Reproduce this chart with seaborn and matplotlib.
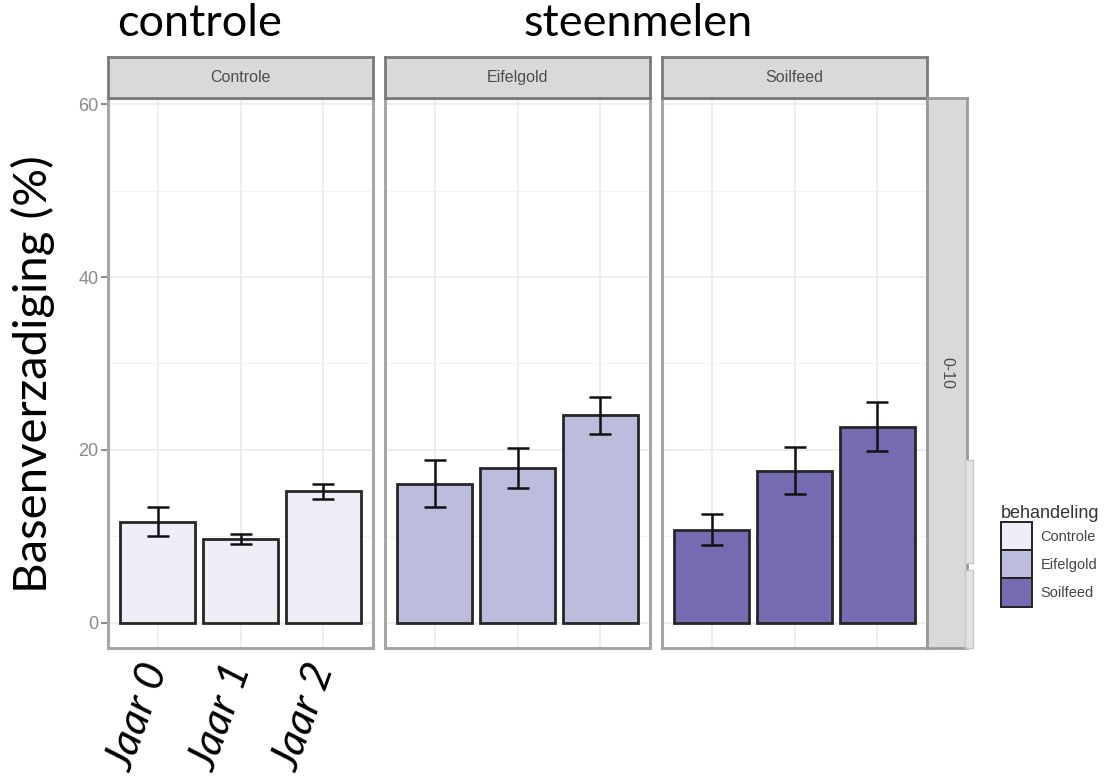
import matplotlib
matplotlib.use("Agg")
import matplotlib.pyplot as plt
from matplotlib.patches import Patch, Rectangle
import seaborn as sns
import pandas as pd
import numpy as np

sns.set_theme(style="white")
plt.rcParams['font.family'] = ['Liberation Sans', 'DejaVu Sans']

# ---- data ----
jaren = ["Jaar 0", "Jaar 1", "Jaar 2"]
behandelingen = ["Controle", "Eifelgold", "Soilfeed"]
controle_mean = [11.7, 9.7, 15.2]
controle_se = [1.7, 0.6, 0.9]
eifelgold_mean = [16.1, 17.9, 24.0]
eifelgold_se = [2.7, 2.35, 2.15]
soilfeed_mean = [10.8, 17.6, 22.7]
soilfeed_se = [1.8, 2.7, 2.8]
kleuren = ["#EFEDF5", "#BCBDDC", "#756BB1"]
y_ticks = [0, 20, 40, 60]
diepte = "0-10"

means = [controle_mean, eifelgold_mean, soilfeed_mean]
ses = [controle_se, eifelgold_se, soilfeed_se]
rows = []
for b, m, s in zip(behandelingen, means, ses):
    for j, mv, sv in zip(jaren, m, s):
        rows.append(dict(behandeling=b, jaar=j, waarde=mv, se=sv))
df = pd.DataFrame(rows)

W, H = 1107, 776
fig = plt.figure(figsize=(W / 100, H / 100), dpi=100)

def rect(x0, y0, x1, y1):
    return [x0 / W, 1 - y1 / H, (x1 - x0) / W, (y1 - y0) / H]

big_font = ["Lato", "Liberation Sans", "DejaVu Sans"]
panel_x = [(108, 373), (385, 650), (662, 927)]
ptop, pbot = 98, 648
stop = 57
border = "#A6A6A6"
strip_face = "#D9D9D9"

axes = []
for i, (b, (x0, x1)) in enumerate(zip(behandelingen, panel_x)):
    ax = fig.add_axes(rect(x0, ptop, x1, pbot))
    sub = df[df.behandeling == b]
    sns.barplot(data=sub, x="jaar", y="waarde", order=jaren, color=kleuren[i],
                saturation=1, width=0.9, edgecolor="#262626", linewidth=2.0,
                errorbar=None, ax=ax, zorder=3)
    ax.errorbar(np.arange(3), sub.waarde.values, yerr=sub.se.values, fmt="none",
                ecolor="#111111", elinewidth=1.8, capsize=8, capthick=1.8, zorder=4)
    ax.set_xlim(-0.6, 2.6)
    ax.set_ylim(-2.9, 60.7)
    ax.set_yticks(y_ticks)
    ax.set_yticks([10, 30, 50], minor=True)
    ax.grid(True, which="major", color="#EBEBEB", linewidth=1.2, zorder=0)
    ax.grid(True, which="minor", axis="y", color="#F3F3F3", linewidth=0.7, zorder=0)
    ax.set_axisbelow(True)
    for sp in ax.spines.values():
        sp.set_color(border)
        sp.set_linewidth(2.2)
    ax.set_xlabel("")
    ax.set_ylabel("")
    if i == 0:
        ax.tick_params(axis="y", which="major", length=5, width=1.2, color="#777777",
                       labelsize=13, labelcolor="#8A8A8A", pad=2, left=True)
        ax.tick_params(axis="y", which="minor", length=0)
        ax.tick_params(axis="x", length=0, pad=12)
        ax.set_xticks(range(3))
        ax.set_xticklabels(jaren, rotation=70, ha="right", va="center",
                           rotation_mode="anchor", fontsize=31, style="italic",
                           color="black")
        for lab in ax.get_xticklabels():
            lab.set_fontfamily(big_font)
    else:
        ax.tick_params(axis="both", which="both", length=0, labelleft=False,
                       labelbottom=False)
    # strip
    sax = fig.add_axes(rect(x0, stop, x1, ptop))
    sax.set_facecolor(strip_face)
    sax.set_xticks([]); sax.set_yticks([])
    for sp in sax.spines.values():
        sp.set_color("#7A7A7A"); sp.set_linewidth(2.0)
    sax.text(0.5, 0.5, b, ha="center", va="center", fontsize=11.5, color="#4D4D4D",
             transform=sax.transAxes)
    axes.append(ax)

# right strip
rax = fig.add_axes(rect(927, ptop, 967, pbot))
rax.set_facecolor(strip_face)
rax.set_xticks([]); rax.set_yticks([])
for sp in rax.spines.values():
    sp.set_color("#9A9A9A"); sp.set_linewidth(2.0)
rax.text(0.5, 0.5, diepte, ha="center", va="center", rotation=-90, fontsize=11.5,
         color="#4D4D4D", transform=rax.transAxes)

# small artifact strip on the right
for (ya, yb) in [(460, 563), (570, 648)]:
    fig.patches.append(Rectangle((965 / W, 1 - yb / H), 8 / W, (yb - ya) / H,
                                 transform=fig.transFigure, facecolor="#E3E3E3",
                                 edgecolor="#C8C8C8", linewidth=1))

# big titles
fig.text(200 / W, 1 - 24 / H, "controle", ha="center", va="center", fontsize=32.5,
         color="black", family=big_font)
fig.text(638 / W, 1 - 24 / H, "steenmelen", ha="center", va="center", fontsize=32.5,
         color="black", family=big_font)
fig.text(33 / W, 1 - 374 / H, "Basenverzadiging (%)", ha="center", va="center",
         rotation=90, fontsize=34, color="black", family=big_font)

# legend
handles = [Patch(facecolor=c, edgecolor="#222222", linewidth=1.4) for c in kleuren]
leg = fig.legend(handles, behandelingen, title="behandeling", loc="upper left",
                 bbox_to_anchor=(1001 / W, 1 - 505 / H), frameon=False,
                 fontsize=10.5, title_fontsize=13, handlelength=2.1, handleheight=2.6,
                 labelspacing=0.0, handletextpad=0.6, borderaxespad=0,
                 borderpad=0)
leg._legend_box.align = "left"
for t in leg.get_texts():
    t.set_color("#444444")
leg.get_title().set_color("#333333")

fig.savefig("out.png", dpi=100)
